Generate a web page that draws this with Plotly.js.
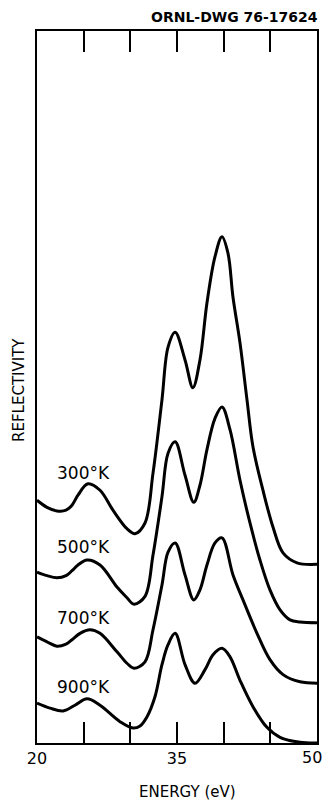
<!DOCTYPE html>
<html>
<head>
<meta charset="utf-8">
<script src="https://cdn.plot.ly/plotly-3.0.1.min.js"></script>
<style>html,body{margin:0;padding:0;background:#fff;}#chart{width:325px;height:802px;}</style>
</head>
<body>
<div id="chart"></div>
<script>
// Energy (eV) and reflectivity (arbitrary units, curves offset vertically)
const energy300 = [20.0,21.07,22.14,23.11,23.75,24.39,25.46,26.75,28.14,29.64,30.5,31.57,32.43,33.39,34.04,34.8,35.86,36.7,37.46,38.21,39.07,39.82,40.46,41.0,41.75,42.5,43.14,44.21,45.29,46.36,47.86,50.0];
const refl300   = [34.1,33.1,32.6,32.7,33.4,34.8,36.4,35.5,32.7,30.1,29.4,30.9,37.9,48.2,55.6,57.7,53.8,49.9,53.8,61.8,68.3,71.1,68.8,62.6,56.2,48.2,41.6,35.5,30.3,26.7,25.3,25.1];

const energy500 = [20.0,21.07,22.14,23.11,23.75,24.39,25.36,26.75,28.57,29.64,30.39,31.57,32.43,33.39,34.04,34.8,35.86,36.8,37.46,38.21,39.07,39.82,40.68,41.75,42.82,43.89,44.96,46.04,47.11,48.18,50.0];
const refl500   = [24.0,23.5,23.2,23.5,24.2,25.0,25.7,25.0,21.9,20.4,19.5,20.6,26.4,34.6,40.7,42.3,37.6,33.8,36.2,41.2,45.6,47.2,44.0,36.9,30.9,25.7,21.5,18.7,17.3,17.0,16.9];

const energy700 = [20.0,21.07,22.14,23.11,23.75,24.61,25.68,26.75,28.57,29.64,30.39,31.57,32.43,33.39,34.04,34.8,35.86,36.8,37.46,38.21,39.07,39.82,41.0,42.07,43.57,44.96,46.36,48.18,50.0];
const refl700   = [14.9,14.2,13.6,13.9,14.5,15.4,15.9,15.4,12.8,11.2,10.5,11.4,15.9,22.2,26.8,28.1,23.6,20.1,21.5,25.0,28.1,28.8,23.6,20.1,15.4,11.7,9.6,8.6,8.4];

const energy900 = [20.0,21.39,22.79,24.07,25.36,26.75,28.89,30.29,31.04,31.79,32.64,33.39,34.04,34.8,35.86,36.93,38.0,38.86,39.82,40.68,41.75,43.14,44.64,46.04,48.18,50.0];
const refl900   = [5.6,4.9,4.5,5.3,6.2,5.3,3.0,2.1,2.4,3.7,6.5,11.0,13.8,15.4,11.0,8.4,10.3,12.4,13.3,12.1,8.8,5.1,2.2,0.8,0.1,0.0];

const seriesNames = ["300°K","500°K","700°K","900°K"];
const tickValues = [20,25,30,35,40,45,50];
const tickLabels = ["20","","","35","","",""];
const lastTickLabel = "50";

const xs = [energy300, energy500, energy700, energy900];
const ys = [refl300, refl500, refl700, refl900];

const FONT = "DejaVu Sans, Liberation Sans, sans-serif";

const traces = xs.map((x, i) => ({
  type: "scatter", mode: "lines", name: seriesNames[i],
  x: x, y: ys[i],
  line: {color: "#000", width: 3, shape: "spline", smoothing: 1},
  hoverinfo: "skip"
}));

// label positions (paper coords) for the curve names
const labelPos = [[0.064, 0.379], [0.064, 0.275], [0.064, 0.176], [0.064, 0.078]];
const annotations = seriesNames.map((t, i) => ({
  text: t, xref: "paper", yref: "paper", x: labelPos[i][0], y: labelPos[i][1],
  xanchor: "left", yanchor: "middle", showarrow: false,
  font: {family: FONT, size: 17, color: "#000"}
}));
annotations.push({
  text: "ORNL-DWG 76-17624", xref: "paper", yref: "paper", x: 1.011, y: 1.0197,
  xanchor: "right", yanchor: "middle", showarrow: false,
  font: {family: FONT, size: 14, color: "#000", weight: "bold"}
});
annotations.push({
  text: lastTickLabel, xref: "paper", yref: "paper", x: 1.025, y: -0.0197,
  xanchor: "right", yanchor: "middle", showarrow: false,
  font: {family: FONT, size: 16, color: "#000"}
});
annotations.push({
  text: "ENERGY (eV)", xref: "paper", yref: "paper", x: 0.539, y: -0.0688,
  xanchor: "center", yanchor: "middle", showarrow: false,
  font: {family: FONT, size: 15, color: "#000"}
});
annotations.push({
  text: "REFLECTIVITY", xref: "paper", yref: "paper", x: -0.064, y: 0.496,
  xanchor: "center", yanchor: "middle", showarrow: false, textangle: -90,
  font: {family: FONT, size: 15, color: "#000"}
});

const layout = {
  width: 325, height: 802,
  margin: {l: 37, r: 8, t: 31, b: 59},
  paper_bgcolor: "#fff", plot_bgcolor: "#fff",
  showlegend: false,
  xaxis: {
    range: [20, 50], tickmode: "array", tickvals: tickValues, ticktext: tickLabels,
    ticks: "inside", ticklen: 21, tickwidth: 2, tickcolor: "#000",
    showline: true, linewidth: 2, linecolor: "#000", mirror: "ticks",
    showgrid: false, zeroline: false,
    tickfont: {family: FONT, size: 16, color: "#000"}
  },
  yaxis: {
    range: [0, 100], showticklabels: false, ticks: "",
    showline: true, linewidth: 2, linecolor: "#000", mirror: true,
    showgrid: false, zeroline: false
  },
  annotations: annotations
};

Plotly.newPlot("chart", traces, layout, {staticPlot: true, displayModeBar: false});
</script>
</body>
</html>
